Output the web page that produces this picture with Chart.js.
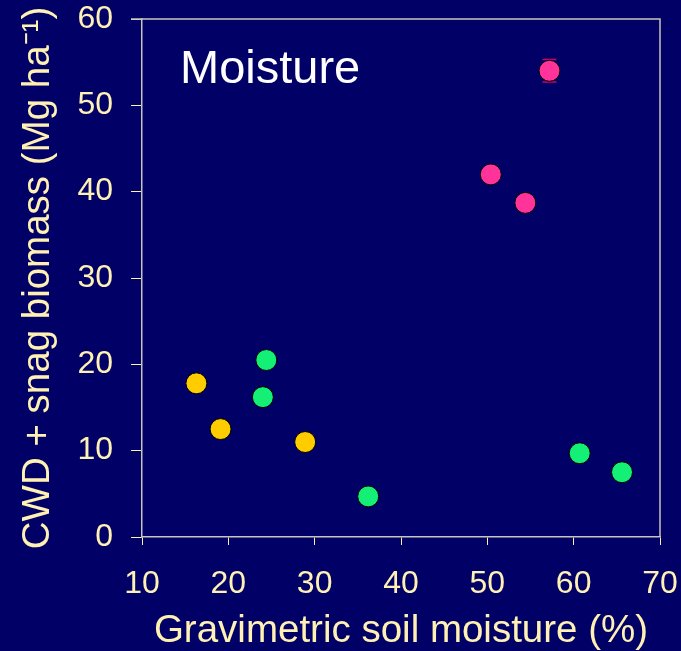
<!DOCTYPE html>
<html>
<head>
<meta charset="utf-8">
<script src="https://cdn.jsdelivr.net/npm/chart.js@4"></script>
<style>
  html, body { margin: 0; padding: 0; background: #000066; }
  #wrap { width: 681px; height: 651px; }
</style>
</head>
<body>
<div id="wrap"><canvas id="moistureChart" width="681" height="651"></canvas></div>
<script>
// Gravimetric soil moisture (%) vs CWD + snag biomass (Mg/ha)
const yellowMoisture = [16.3, 19.1, 28.9];
const yellowBiomass = [17.8, 12.5, 11.0];

const greenMoisture = [24.4, 24.0, 36.2, 60.7, 65.6];
const greenBiomass = [20.5, 16.2, 4.7, 9.7, 7.5];

const pinkMoisture = [50.4, 54.4, 57.2];
const pinkBiomass = [42.0, 38.7, 54.0];
const pinkError = [0, 0, 1.3];

const xTicks = [10, 20, 30, 40, 50, 60, 70];
const yTicks = [0, 10, 20, 30, 40, 50, 60];

const labelColor = '#FFF0B4';
const axisColor = '#C8C4B8';
const fontFamily = '"Liberation Sans", Arial, sans-serif';

const toPoints = (xs, ys) => xs.map((x, i) => ({ x: x, y: ys[i] }));

// error bars drawn under the points
const errorBars = {
    id: 'errorBars',
    beforeDatasetsDraw(chart) {
        const { ctx, scales } = chart;
        ctx.save();
        ctx.strokeStyle = '#CC0066';
        ctx.lineWidth = 1.5;
        pinkMoisture.forEach((m, i) => {
            if (!pinkError[i]) return;
            const x = scales.x.getPixelForValue(m);
            const top = scales.y.getPixelForValue(pinkBiomass[i] + pinkError[i]);
            const bot = scales.y.getPixelForValue(pinkBiomass[i] - pinkError[i]);
            ctx.beginPath();
            ctx.moveTo(x, top); ctx.lineTo(x, bot);
            ctx.moveTo(x - 7, top); ctx.lineTo(x + 7, top);
            ctx.moveTo(x - 7, bot); ctx.lineTo(x + 7, bot);
            ctx.stroke();
        });
        ctx.restore();
    }
};

// box around plot + "Moisture" label
const frame = {
    id: 'frame',
    afterDraw(chart) {
        const { ctx, chartArea } = chart;
        ctx.save();
        ctx.strokeStyle = axisColor;
        ctx.lineWidth = 1.5;
        ctx.beginPath();
        ctx.moveTo(chartArea.left - 11, chartArea.top);
        ctx.lineTo(chartArea.right, chartArea.top);
        ctx.lineTo(chartArea.right, chartArea.bottom);
        ctx.stroke();
        ctx.fillStyle = '#FFFFFF';
        ctx.font = '47px ' + fontFamily;
        ctx.textBaseline = 'alphabetic';
        ctx.fillText('Moisture', chartArea.left + 38, chartArea.top + 64);
        ctx.restore();
    }
};

const pointStyle = (color) => ({
    backgroundColor: color,
    borderColor: '#000000',
    borderWidth: 1,
    pointRadius: 10.5,
    pointHoverRadius: 10.5
});

new Chart(document.getElementById('moistureChart'), {
    type: 'scatter',
    data: {
        datasets: [
            { label: 'yellow', data: toPoints(yellowMoisture, yellowBiomass), ...pointStyle('#FFCC00') },
            { label: 'green', data: toPoints(greenMoisture, greenBiomass), ...pointStyle('#14F075') },
            { label: 'pink', data: toPoints(pinkMoisture, pinkBiomass), ...pointStyle('#FF3399') }
        ]
    },
    options: {
        responsive: false,
        animation: false,
        layout: { padding: { top: 19, right: 21, left: 0, bottom: 0 } },
        plugins: {
            legend: { display: false },
            tooltip: { enabled: false }
        },
        scales: {
            x: {
                type: 'linear',
                min: 10, max: 70,
                afterFit: (scale) => {
                    scale.height = 114;
                    scale.paddingLeft = 0; scale.paddingRight = 0;
                },
                afterBuildTicks: (scale) => { scale.ticks = xTicks.map(v => ({ value: v })); },
                border: { display: true, color: axisColor, width: 1.5 },
                grid: { drawOnChartArea: false, tickLength: 8, color: labelColor, tickColor: labelColor },
                ticks: { color: labelColor, padding: 20, font: { family: fontFamily, size: 32 } },
                title: {
                    display: true,
                    text: 'Gravimetric soil moisture (%)',
                    color: labelColor,
                    font: { family: fontFamily, size: 38.5, lineHeight: 1.0 },
                    padding: { top: 0, bottom: 0 }
                }
            },
            y: {
                type: 'linear',
                min: 0, max: 60,
                afterFit: (scale) => {
                    scale.width = 142;
                    scale.paddingTop = 0; scale.paddingBottom = 0;
                },
                afterBuildTicks: (scale) => { scale.ticks = yTicks.map(v => ({ value: v })); },
                border: { display: true, color: axisColor, width: 1.5 },
                grid: { drawOnChartArea: false, tickLength: 11, color: labelColor, tickColor: labelColor },
                ticks: { color: labelColor, padding: 18, font: { family: fontFamily, size: 32 } },
                title: {
                    display: true,
                    text: 'CWD + snag biomass (Mg ha\u207B\u00B9)',
                    color: labelColor,
                    font: { family: fontFamily, size: 38.5, lineHeight: 1.0 },
                    padding: { top: 19, bottom: 0 }
                }
            }
        }
    },
    plugins: [errorBars, frame]
});
</script>
</body>
</html>
